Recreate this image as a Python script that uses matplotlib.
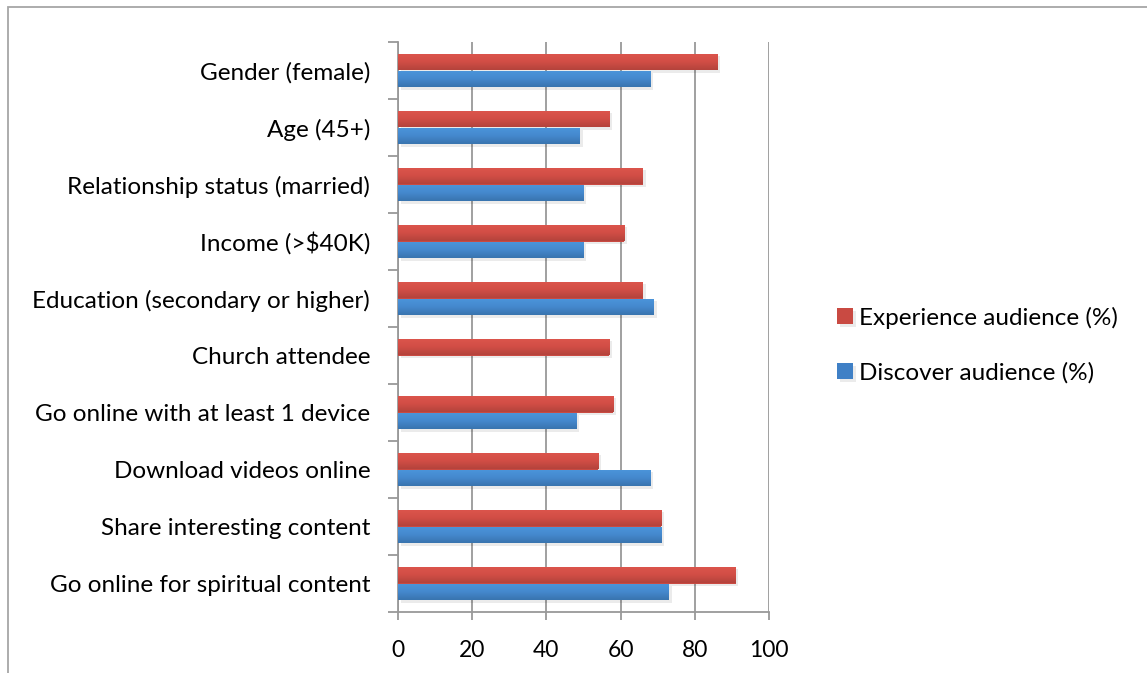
import matplotlib
matplotlib.use('Agg')
import matplotlib.pyplot as plt
import matplotlib.patheffects as pe
from matplotlib.colors import LinearSegmentedColormap
from matplotlib.patches import Rectangle
import numpy as np

categories = ['Gender (female)', 'Age (45+)', 'Relationship status (married)',
              'Income (>$40K)', 'Education (secondary or higher)', 'Church attendee',
              'Go online with at least 1 device', 'Download videos online',
              'Share interesting content', 'Go online for spiritual content']
experience = [86, 57, 66, 61, 66, 57, 58, 54, 71, 91]
discover = [68, 49, 50, 50, 69, 0, 48, 68, 71, 73]
xticks = [0, 20, 40, 60, 80, 100]

plt.rcParams['font.family'] = ['Lato', 'DejaVu Sans']
W, H = 1147, 673
fig = plt.figure(figsize=(W / 100, H / 100), dpi=100)

# outer chart border (cut off at right/bottom like the screenshot)
fig.patches.append(Rectangle((8 / W, -0.1), 1.2, 0.1 + 666 / H, transform=fig.transFigure,
                             fill=False, edgecolor='#a6a6a6', lw=1.3))

ax = fig.add_axes([398 / W, (H - 612) / H, 371 / W, 570 / H])

y = np.arange(len(categories))
h = 0.295
red_bars = ax.barh(y - h / 2, experience, height=h, color='#c94a42', zorder=3)
blue_bars = ax.barh(y + h / 2, discover, height=h, color='#3f80c6', zorder=3)

shadow = [pe.SimplePatchShadow(offset=(2, -2), shadow_rgbFace='#000000', alpha=0.08), pe.Normal()]
red_cm = LinearSegmentedColormap.from_list('r', ['#dc554c', '#d24e46', '#b4433c'])
blue_cm = LinearSegmentedColormap.from_list('b', ['#4b95db', '#4589ce', '#3974af'])
grad = np.linspace(0, 1, 64).reshape(-1, 1)
for bars, cm in [(red_bars, red_cm), (blue_bars, blue_cm)]:
    for b in bars:
        b.set_path_effects(shadow)
        x0, y0 = b.get_x(), b.get_y()
        w, hh = b.get_width(), b.get_height()
        if w <= 0:
            continue
        im = ax.imshow(grad, cmap=cm, aspect='auto', extent=[x0, x0 + w, y0 + hh, y0],
                       zorder=4, interpolation='bilinear')
        im.set_clip_path(b)

ax.set_xlim(0, 100)
ax.set_ylim(len(categories) - 0.5, -0.5)

ax.set_xticks(xticks)
ax.set_xticklabels([str(t) for t in xticks])
ax.set_yticks(np.arange(len(categories) + 1) - 0.5)
ax.set_yticklabels([])
ax.set_yticks(y, minor=True)
ax.set_yticklabels(categories, minor=True)

ax.tick_params(axis='y', which='major', length=7, width=1.3, color='#999999')
ax.tick_params(axis='y', which='minor', length=0, pad=20, labelsize=17.5)
ax.tick_params(axis='x', length=6, width=1.3, color='#999999', pad=14, labelsize=16.5)

ax.grid(axis='x', color='#999999', lw=1.3, zorder=0)
for s in ['top', 'right']:
    ax.spines[s].set_visible(False)
for s in ['left', 'bottom']:
    ax.spines[s].set_color('#999999')
    ax.spines[s].set_linewidth(1.3)

leg = fig.legend([red_bars, blue_bars], ['Experience audience (%)', 'Discover audience (%)'],
                 loc='center left', bbox_to_anchor=(815 / W, 1 - 345 / H), frameon=False,
                 fontsize=17.5, handlelength=0.66, handleheight=0.66, handletextpad=0.25,
                 labelspacing=1.38)

fig.savefig('out.png', dpi=100)
